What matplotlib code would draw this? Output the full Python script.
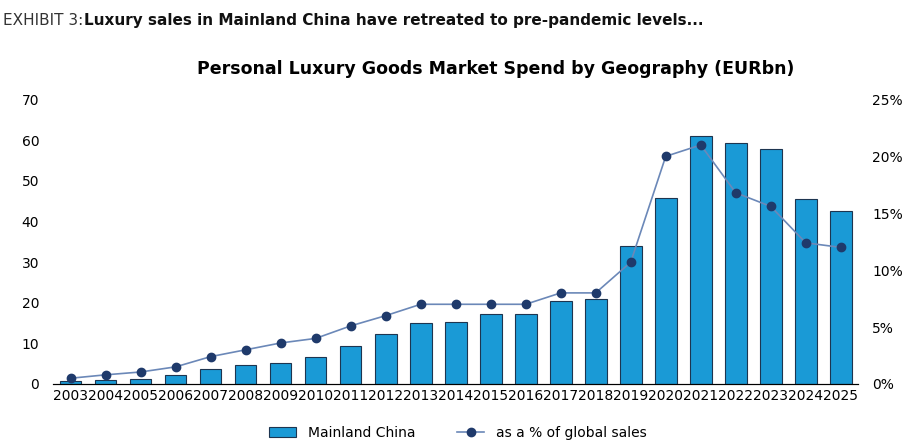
import matplotlib.pyplot as plt
from matplotlib.ticker import FuncFormatter

years = [str(y) for y in range(2003, 2026)]
china_sales = [0.7, 1.0, 1.3, 2.3, 3.6, 4.7, 5.2, 6.7, 9.3, 12.4, 15.0, 15.3, 17.1, 17.1,
               20.3, 21.0, 33.9, 45.7, 61.0, 59.3, 57.7, 45.5, 42.5]
share_pct = [0.5, 0.8, 1.05, 1.5, 2.4, 3.0, 3.6, 4.0, 5.1, 6.0, 7.0, 7.0, 7.0, 7.0,
             8.0, 8.0, 10.7, 20.0, 21.0, 16.8, 15.6, 12.4, 12.0]

fig = plt.figure(figsize=(9.15, 4.48), dpi=100)
ax = fig.add_axes([0.058, 0.143, 0.88, 0.635])
ax2 = ax.twinx()

x = range(len(years))
ax.bar(x, china_sales, width=0.62, color='#1a9ad6', edgecolor='#1d3550', linewidth=0.8,
       label='Mainland China', zorder=2)
ax2.plot(x, share_pct, color='#6b88b8', linewidth=1.2, marker='o', markersize=6,
         markerfacecolor='#1f3a6b', markeredgecolor='#1f3a6b', label='as a % of global sales')

ax.set_ylim(0, 70)
ax.set_yticks(range(0, 71, 10))
ax2.set_ylim(0, 25)
ax2.set_yticks(range(0, 26, 5))
ax2.yaxis.set_major_formatter(FuncFormatter(lambda v, p: f'{v:.0f}%'))
ax.set_xlim(-0.5, len(years) - 0.5)
ax.set_xticks(list(x))
ax.set_xticklabels(years)
for a in (ax, ax2):
    a.tick_params(labelsize=10, length=0)
    for s in ('top',):
        a.spines[s].set_visible(False)
    a.spines['left'].set_visible(False)
    a.spines['right'].set_visible(False)
ax.spines['bottom'].set_color('#333333')
ax.tick_params(axis='y', pad=10)
ax2.tick_params(axis='y', pad=10)

fig.text(0.215, 0.835, 'Personal Luxury Goods Market Spend by Geography (EURbn)',
         fontsize=12.5, fontweight='bold', ha='left')
fig.text(0.003, 0.955, 'EXHIBIT 3: ', fontsize=11, color='#333333', ha='left', va='center')
fig.text(0.092, 0.955, 'Luxury sales in Mainland China have retreated to pre-pandemic levels...',
         fontsize=11, fontweight='bold', color='#111111', ha='left', va='center')

h1, l1 = ax.get_legend_handles_labels()
h2, l2 = ax2.get_legend_handles_labels()
fig.legend(h1 + h2, l1 + l2, loc='lower center', bbox_to_anchor=(0.5, -0.01), ncol=2,
           frameon=False, fontsize=10, columnspacing=3)

fig.savefig('out.png', dpi=100)
